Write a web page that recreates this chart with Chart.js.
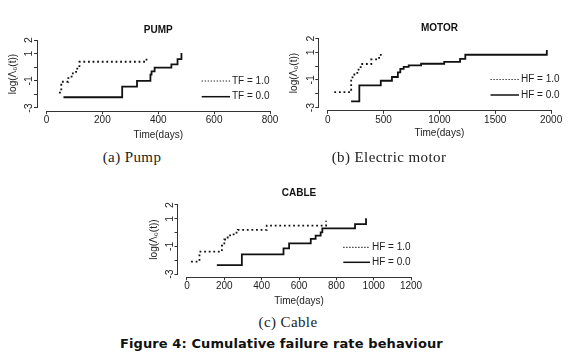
<!DOCTYPE html>
<html>
<head>
<meta charset="utf-8">
<script src="https://cdn.jsdelivr.net/npm/chart.js@4.4.0/dist/chart.umd.min.js"></script>
<style>
  body { margin: 0; width: 576px; height: 354px; background: #fff; position: relative; overflow: hidden; }
  canvas { position: absolute; }
  .cap { position: absolute; font-family: "Liberation Serif", serif; font-size: 15px; letter-spacing: 0.4px; color: #222; white-space: nowrap; transform: translate(-50%, -50%); }
  .fig { position: absolute; left: 120px; top: 343px; transform: translateY(-50%); font-family: "DejaVu Sans", sans-serif; font-weight: bold; font-size: 13px; letter-spacing: 0.1px; color: #111; white-space: nowrap; }
</style>
</head>
<body>
<canvas id="pump"></canvas>
<canvas id="motor"></canvas>
<canvas id="cable"></canvas>
<div class="cap" style="left:132px; top:157px;">(a) Pump</div>
<div class="cap" style="left:389px; top:157px;">(b) Electric motor</div>
<div class="cap" style="left:288px; top:322px;">(c) Cable</div>
<div class="fig">Figure 4: Cumulative failure rate behaviour</div>
<script>
// podaci procitani sa slike: vreme (dani) i log(Λ0(t))
const pumpLabels = ['TF = 1.0', 'TF = 0.0'];
const pumpTF1Days = [45, 53, 78, 90, 106, 118, 358];
const pumpTF1Log = [-1.87, -1.07, -0.80, -0.45, -0.10, 0.40, 0.65];
const pumpTF0Days = [61, 271, 324, 372, 376, 387, 447, 469, 483];
const pumpTF0Log = [-2.21, -1.43, -1.01, -0.55, -0.30, -0.03, 0.21, 0.60, 1.05];

const motorLabels = ['HF = 1.0', 'HF = 0.0'];
const motorHF1Days = [59, 210, 222, 265, 295, 390, 460, 475];
const motorHF1Log = [-1.89, -0.97, -0.61, -0.25, 0.15, 0.48, 0.70, 1.05];
const motorHF0Days = [209, 283, 475, 575, 628, 650, 680, 725, 836, 1043, 1185, 1232, 1962];
const motorHF0Log = [-2.55, -1.40, -1.06, -0.79, -0.45, -0.20, -0.05, 0.05, 0.17, 0.30, 0.52, 0.82, 1.17];

const cableLabels = ['HF = 1.0', 'HF = 0.0'];
const cableHF1Days = [22, 67, 187, 200, 218, 250, 272, 427, 745];
const cableHF1Log = [-2.10, -1.38, -0.95, -0.50, -0.20, 0.00, 0.19, 0.50, 0.85];
const cableHF0Days = [160, 294, 517, 547, 663, 689, 716, 725, 900, 959];
const cableHF0Log = [-2.35, -1.57, -1.14, -0.78, -0.46, -0.22, 0.02, 0.31, 0.62, 1.03];

// oznake na osama
const pumpXTicks = [0, 200, 400, 600, 800];
const motorXTicks = [0, 500, 1000, 1500, 2000];
const cableXTicks = [0, 200, 400, 600, 800, 1000, 1200];
const yTickValues = [-3, -2, -1, 0, 1, 2];
const yTickLabels = ['-3', '', '-1', '', '1', '2'];

const FONT = "'Liberation Sans', Arial, sans-serif";
const INK = '#111';
Chart.defaults.font.family = FONT;
Chart.defaults.color = '#222';

// R stil: linija ose samo od prve do poslednje oznake
const rAxes = {
    id: 'rAxes',
    afterDraw(chart) {
        const ctx = chart.ctx;
        const sx = chart.scales.x, sy = chart.scales.y;
        const a = chart.chartArea;
        const yb = Math.round(a.bottom) + 0.5;
        const xl = Math.round(a.left) - 0.5;
        ctx.save();
        ctx.strokeStyle = '#333';
        ctx.lineWidth = 1;
        ctx.beginPath();
        ctx.moveTo(sx.getPixelForValue(sx.ticks[0].value), yb);
        ctx.lineTo(sx.getPixelForValue(sx.ticks[sx.ticks.length - 1].value), yb);
        ctx.moveTo(xl, sy.getPixelForValue(sy.ticks[0].value));
        ctx.lineTo(xl, sy.getPixelForValue(sy.ticks[sy.ticks.length - 1].value));
        ctx.stroke();
        ctx.restore();
    }
};

// legenda bez okvira, kao bty="n"
const rLegend = {
    id: 'rLegend',
    afterDraw(chart, args, opts) {
        const ctx = chart.ctx;
        const a = chart.chartArea;
        ctx.save();
        chart.data.datasets.forEach((ds, i) => {
            const yy = a.bottom - opts.rows[i];
            const x0 = a.right - opts.from, x1 = a.right - opts.to;
            ctx.strokeStyle = INK;
            ctx.lineWidth = ds.borderDash ? 1.2 : 1.5;
            ctx.setLineDash(ds.borderDash ? [1.2, 1.8] : []);
            ctx.beginPath();
            ctx.moveTo(x0, yy);
            ctx.lineTo(x1, yy);
            ctx.stroke();
            ctx.setLineDash([]);
            ctx.fillStyle = '#222';
            ctx.font = '10px ' + FONT;
            ctx.textBaseline = 'middle';
            ctx.fillText(ds.label, x1 + 2, yy);
        });
        ctx.restore();
    }
};

function pts(days, vals) {
    return days.map((d, i) => ({ x: d, y: vals[i] }));
}

function makePanel(p) {
    const cv = document.getElementById(p.id);
    cv.width = p.box.w;
    cv.height = p.box.h;
    cv.style.left = p.box.x + 'px';
    cv.style.top = p.box.y + 'px';

    const yAxisW = p.area.l - p.box.x;
    const xAxisH = p.box.y + p.box.h - p.area.b;
    const padRight = p.box.x + p.box.w - p.area.r;

    new Chart(cv, {
        type: 'line',
        data: {
            datasets: [
                { label: p.labels[0], data: pts(p.d1, p.v1), borderColor: INK, borderWidth: 1.8, borderDash: [1.8, 2.8], stepped: true, pointRadius: 0, fill: false },
                { label: p.labels[1], data: pts(p.d0, p.v0), borderColor: INK, borderWidth: 1.8, stepped: true, pointRadius: 0, fill: false }
            ]
        },
        options: {
            responsive: false,
            animation: false,
            layout: { padding: { left: 0, top: 0, right: padRight, bottom: 0 } },
            plugins: {
                legend: { display: false },
                tooltip: { enabled: false },
                title: {
                    display: true,
                    text: p.title,
                    fullSize: false,
                    color: INK,
                    font: { size: 10, weight: 'bold', lineHeight: 1.2 },
                    padding: { top: p.titleY - p.box.y - 6, bottom: p.area.t - p.titleY - 6 }
                },
                rLegend: p.legend
            },
            scales: {
                x: {
                    type: 'linear',
                    min: p.xMin,
                    max: p.xMax,
                    afterBuildTicks: s => { s.ticks = p.xTicks.map(v => ({ value: v })); },
                    afterFit: s => { s.height = xAxisH; },
                    border: { display: false },
                    grid: { drawOnChartArea: false, drawTicks: true, tickLength: 3.5, color: '#333' },
                    ticks: { font: { size: 10 }, padding: 0, maxRotation: 0, autoSkip: false, callback: v => String(v) },
                    title: { display: true, text: 'Time(days)', font: { size: 10, lineHeight: 1.2 }, padding: { top: 0, bottom: 0 } }
                },
                y: {
                    type: 'linear',
                    min: -3.2,
                    max: 2.2,
                    afterBuildTicks: s => { s.ticks = yTickValues.map(v => ({ value: v })); },
                    afterFit: s => { s.width = yAxisW; },
                    border: { display: false },
                    grid: { drawOnChartArea: false, drawTicks: true, tickLength: 3.5, color: '#333' },
                    ticks: {
                        font: { size: 10.5 },
                        padding: 0,
                        minRotation: 90,
                        maxRotation: 90,
                        crossAlign: 'center',
                        autoSkip: false,
                        callback: (v) => yTickLabels[yTickValues.indexOf(v)]
                    },
                    title: { display: true, text: 'log(Λ₀(t))', font: { size: 10, lineHeight: 1.2 }, padding: { top: p.ylabelX - p.box.x - 6, bottom: 0 } }
                }
            }
        },
        plugins: [rAxes, rLegend]
    });
}

makePanel({
    id: 'pump', title: 'PUMP', labels: pumpLabels,
    d1: pumpTF1Days, v1: pumpTF1Log, d0: pumpTF0Days, v0: pumpTF0Log,
    xMin: -32, xMax: 832, xTicks: pumpXTicks,
    box: { x: 0, y: 0, w: 288, h: 141 },
    area: { l: 37.5, t: 37.3, r: 279, b: 110.7 },
    titleY: 30, ylabelX: 13,
    legend: { from: 77.3, to: 49, rows: [29.7, 14] }
});

makePanel({
    id: 'motor', title: 'MOTOR', labels: motorLabels,
    d1: motorHF1Days, v1: motorHF1Log, d0: motorHF0Days, v0: motorHF0Log,
    xMin: -80, xMax: 2080, xTicks: motorXTicks,
    box: { x: 282, y: 0, w: 294, h: 139 },
    area: { l: 318.8, t: 35.7, r: 560, b: 110.3 },
    titleY: 28.3, ylabelX: 294.5,
    legend: { from: 69.5, to: 41, rows: [30.8, 15.3] }
});

makePanel({
    id: 'cable', title: 'CABLE', labels: cableLabels,
    d1: cableHF1Days, v1: cableHF1Log, d0: cableHF0Days, v0: cableHF0Log,
    xMin: -48, xMax: 1248, xTicks: cableXTicks,
    box: { x: 140, y: 175, w: 300, h: 132 },
    area: { l: 178, t: 202.2, r: 420, b: 276.8 },
    titleY: 193.5, ylabelX: 154.5,
    legend: { from: 76.7, to: 50, rows: [29.5, 14.5] }
});
</script>
</body>
</html>
